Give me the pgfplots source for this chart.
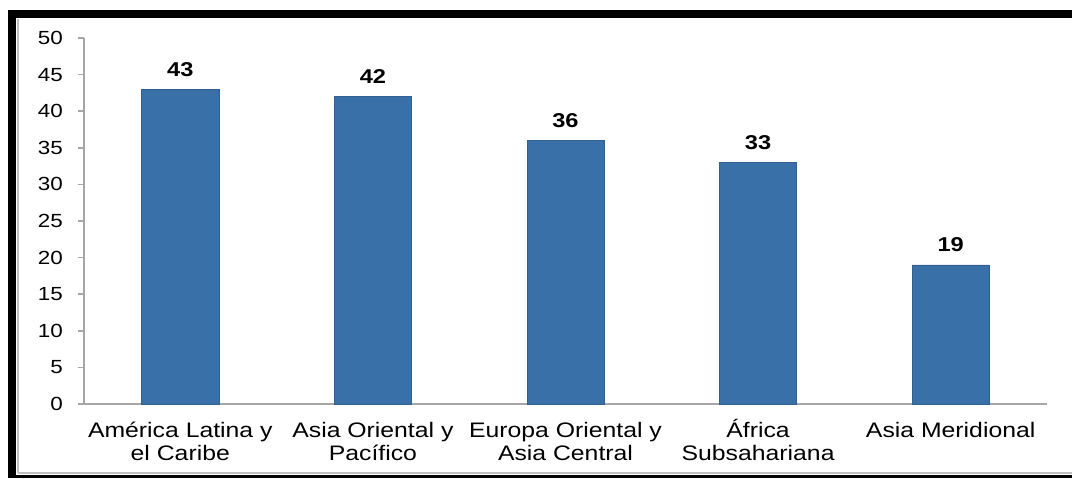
\documentclass[border=0pt]{standalone}
\usepackage{fontspec}
\setmainfont{Liberation Sans}
\newfontfamily\chartfont[FakeStretch=1.18]{Liberation Sans}
\usepackage{pgfplots}
\pgfplotsset{compat=1.18}
\definecolor{barblue}{HTML}{3A70A8}
\definecolor{axgray}{HTML}{A6A6A6}
\begin{document}
\begin{tikzpicture}
\useasboundingbox (0,0) rectangle (536pt,239pt);
\begin{axis}[
  at={(42pt,37pt)}, anchor=south west,
  scale only axis, width=481.5pt, height=183pt,
  xmin=-0.5, xmax=4.5, ymin=0, ymax=50,
  axis x line*=bottom, axis y line*=left,
  axis line style={axgray, line width=0.8pt},
  ytick={0,5,...,50},
  xtick={0,1,2,3,4},
  xticklabels={{\vphantom{Á}América Latina y\\el Caribe},{\vphantom{Á}Asia Oriental y\\Pacífico},{\vphantom{Á}Europa Oriental y\\Asia Central},{\vphantom{Á}África\\Subsahariana},{\vphantom{Á}Asia Meridional}},
  xticklabel style={font=\chartfont\fontsize{10.5pt}{11.6pt}\selectfont, align=center, yshift=-1pt},
  yticklabel style={font=\chartfont\fontsize{9.5pt}{11pt}\selectfont, xshift=-4pt},
  /pgf/number format/assume math mode=true,
  major x tick style={draw=none},
  ytick style={axgray, line width=0.8pt},
  major tick length=3pt,
  tick align=outside,
  extra x ticks={-0.5,0.5,1.5,2.5,3.5,4.5},
  extra x tick labels={},
  extra x tick style={major tick style={draw=axgray, line width=0.8pt}, tick align=outside, major tick length=3pt},
  ybar, bar width=38.5pt,
  nodes near coords,
  nodes near coords style={font=\chartfont\bfseries\fontsize{10pt}{12pt}\selectfont, anchor=south, yshift=3pt},
  clip=false,
]
\addplot[fill=barblue, draw=barblue!85!black, line width=0.3pt] coordinates {(0,43) (1,42) (2,36) (3,33) (4,19)};
\end{axis}
% frame of the screenshot
\fill[black] (4pt,230pt) rectangle (536pt,234pt);
\fill[black] (4pt,0pt) rectangle (8pt,234pt);
\fill[black] (4pt,0pt) rectangle (536pt,1.5pt);
\draw[gray!50, line width=0.6pt] (9pt,2.5pt) -- (9pt,229.5pt);
\draw[gray!50, line width=0.6pt] (9pt,2.5pt) -- (536pt,2.5pt);
\end{tikzpicture}
\end{document}
